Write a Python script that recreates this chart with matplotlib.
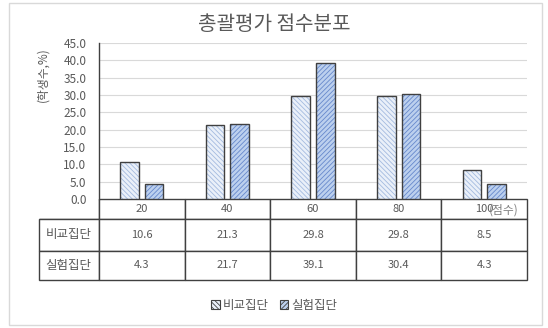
import matplotlib
matplotlib.use("Agg")
import matplotlib.pyplot as plt
from matplotlib.patches import Patch, Rectangle
from matplotlib.transforms import blended_transform_factory
import numpy as np

plt.rcParams['font.family'] = ['Noto Sans CJK KR', 'DejaVu Sans']
plt.rcParams['hatch.linewidth'] = 0.6

# data
categories = ['20', '40', '60', '80', '100']
series_names = ['비교집단', '실험집단']
compare_vals = [10.6, 21.3, 29.8, 29.8, 8.5]
exper_vals = [4.3, 21.7, 39.1, 30.4, 4.3]

W, H = 548, 328
fig = plt.figure(figsize=(W / 100, H / 100), dpi=100)

# plot area in pixels
ax_l, ax_r, ax_t, ax_b = 99, 527, 43, 199
ax = fig.add_axes([ax_l / W, 1 - ax_b / H, (ax_r - ax_l) / W, (ax_b - ax_t) / H])

x = np.arange(len(categories))
bw = 0.216
off = 0.144

styles = [
    dict(face='#eaf0f9', hatch_col='#a3badf', hatch='\\\\\\\\\\\\\\'),
    dict(face='#bcd0ee', hatch_col='#6688cc', hatch='///////'),
]
for vals, sign, st in zip([compare_vals, exper_vals], [-1, 1], styles):
    # fill + hatch
    ax.bar(x + sign * off, vals, bw, color=st['face'], edgecolor=st['hatch_col'],
           hatch=st['hatch'], linewidth=0, zorder=2)
    # outline
    ax.bar(x + sign * off, vals, bw, fill=False, edgecolor='#404040',
           linewidth=1.0, zorder=3)

ax.set_xlim(-0.5, len(categories) - 0.5)
ax.set_ylim(0, 45)
ax.set_yticks(np.arange(0, 46, 5))
ax.set_yticklabels(['%.1f' % v for v in np.arange(0, 46, 5)])
ax.set_xticks([])
ax.tick_params(axis='y', length=0, pad=9, labelsize=8.5, labelcolor='#595959')
ax.grid(axis='y', color='#d9d9d9', linewidth=0.8, zorder=0)
ax.set_axisbelow(True)
for s in ['top', 'right', 'bottom']:
    ax.spines[s].set_visible(False)
ax.spines['left'].set_color('#404040')
ax.spines['left'].set_linewidth(1.0)

# data table
tbl_l, tbl_t, tbl_b = 38.5, 199, 280
aw, ah = ax_r - ax_l, ax_b - ax_t
cell_text = [[''] + categories,
             [series_names[0]] + ['%.1f' % v for v in compare_vals],
             [series_names[1]] + ['%.1f' % v for v in exper_vals]]
colw = (ax_r - ax_l) / len(categories)
tbl = ax.table(cellText=cell_text, cellLoc='center',
               colWidths=[ax_l - tbl_l] + [colw] * len(categories),
               bbox=[(tbl_l - ax_l) / aw, (ax_b - tbl_b) / ah,
                     (ax_r - tbl_l) / aw, (tbl_b - tbl_t) / ah])
tbl.auto_set_font_size(False)
tbl.set_fontsize(8)
row_h = [20, 31, 29]
for (r, c), cell in tbl.get_celld().items():
    cell.set_height(row_h[r])
    cell.set_edgecolor('#404040')
    cell.set_linewidth(1.0)
    cell.get_text().set_color('#595959')
    if c == 0:
        cell.get_text().set_fontsize(9)
    if r == 0 and c == 0:
        cell.visible_edges = 'BR'

# x axis title inside the header cell
trans = blended_transform_factory(ax.transData, ax.transAxes)
ax.text(len(categories) - 0.5 - 8 / colw, (ax_b - 210) / ah, '(점수)', transform=trans,
        ha='right', va='center', fontsize=8.5, color='#7f7f7f', clip_on=False)

# title and y label
fig.text(274.5 / W, 1 - 25 / H, '총괄평가 점수분포', ha='center', va='center',
         fontsize=14.5, color='#595959')
fig.text(43 / W, 1 - 75 / H, '(학생수,%)', ha='center', va='center', rotation=90,
         fontsize=8.5, color='#595959')

# legend
handles = [Patch(facecolor=st['face'], edgecolor='#404040', hatch=st['hatch'], linewidth=0.8)
           for st in styles]
leg = fig.legend(handles, series_names, loc='center', bbox_to_anchor=(274 / W, 1 - 305 / H),
                 ncol=2, frameon=False, fontsize=9, handlelength=0.7, handleheight=0.7,
                 handletextpad=0.2, columnspacing=0.9)
for t in leg.get_texts():
    t.set_color('#595959')

# chart border
fig.add_artist(Rectangle((8.6 / W, 3 / H), (542 - 8.6) / W, (325 - 3) / H,
                         transform=fig.transFigure, fill=False, edgecolor='#d9d9d9',
                         linewidth=1.0))

fig.savefig('out.png', dpi=100)
